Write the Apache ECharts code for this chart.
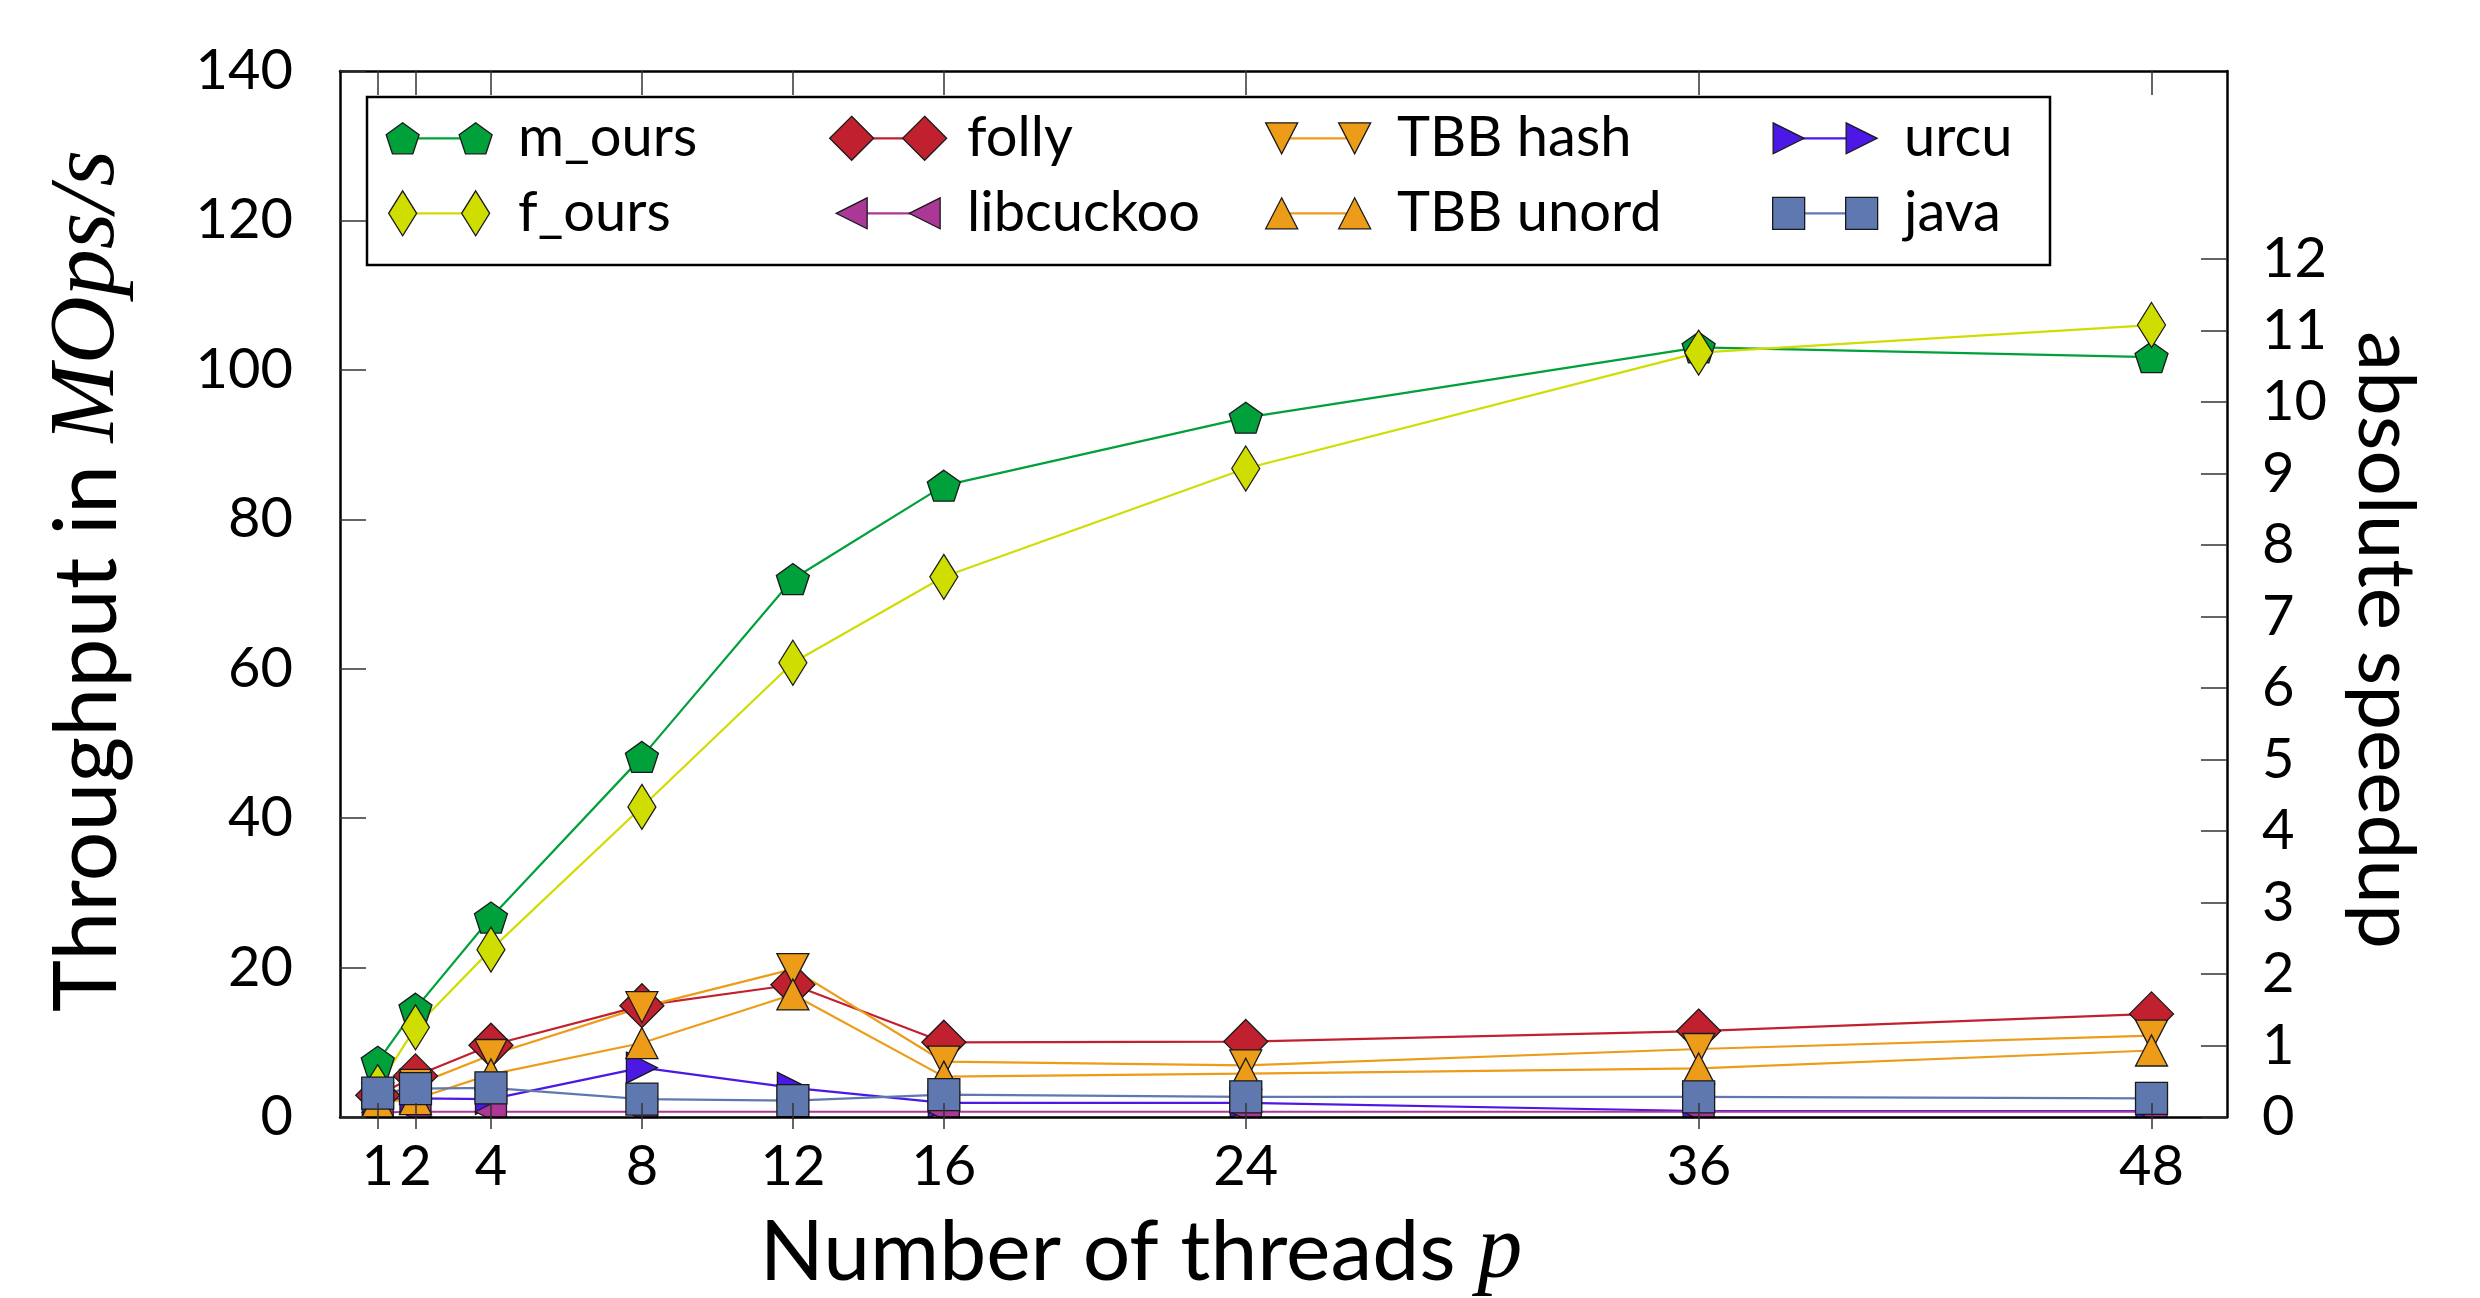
<!DOCTYPE html>
<html>
<head>
<meta charset="utf-8">
<script src="https://cdn.jsdelivr.net/npm/echarts@6/dist/echarts.min.js"></script>
<style>
html,body{margin:0;padding:0;background:#fff;}
#chart{width:2480px;height:1298px;}
</style>
</head>
<body>
<div id="chart"></div>
<script>
// ---------------- data ----------------
const threads = [1, 2, 4, 8, 12, 16, 24, 36, 48];
const mOurs     = [7.4, 14.5, 26.7, 48.2, 72.0, 84.5, 93.6, 103.0, 101.7];
const fOurs     = [4.0, 12.0, 22.4, 41.5, 60.8, 72.3, 86.8, 102.3, 106.0];
const folly     = [2.9, 5.5, 9.6, 14.9, 17.7, 10.0, 10.1, 11.5, 13.8];
const libcuckoo = [0.6, 0.7, 0.7, 0.7, 0.7, 0.7, 0.7, 0.7, 0.7];
const tbbHash   = [2.5, 4.3, 8.3, 14.7, 19.8, 7.4, 6.9, 9.1, 10.9];
const tbbUnord  = [2.0, 2.4, 5.7, 9.9, 16.4, 5.4, 5.8, 6.5, 8.9];
const urcu      = [2.3, 2.5, 2.4, 6.6, 3.9, 1.9, 1.9, 0.8, 0.8];
const java      = [3.2, 3.8, 3.9, 2.4, 2.2, 3.0, 2.7, 2.7, 2.5];
const xTickLabels = [1, 2, 4, 8, 12, 16, 24, 36, 48];
const speedupTicks = [0, 1, 2, 3, 4, 5, 6, 7, 8, 9, 10, 11, 12];
const seriesNames = ['m_ours', 'folly', 'TBB hash', 'urcu', 'f_ours', 'libcuckoo', 'TBB unord', 'java'];
const seriesValues = {
  'm_ours': mOurs, 'folly': folly, 'TBB hash': tbbHash, 'urcu': urcu,
  'f_ours': fOurs, 'libcuckoo': libcuckoo, 'TBB unord': tbbUnord, 'java': java
};

// ---------------- styles ----------------
const SHAPES = {
  pent:    [[0.5,0],[1,0.382],[0.809,1],[0.191,1],[0,0.382]],
  diamond: [[0.5,0],[1,0.5],[0.5,1],[0,0.5]],
  up:      [[0.5,0],[1,1],[0,1]],
  down:    [[0,0],[1,0],[0.5,1]],
  left:    [[0,0.5],[1,0],[1,1]],
  right:   [[0,0],[1,0.5],[0,1]],
  square:  [[0,0],[1,0],[1,1],[0,1]]
};
const STY = {
  'm_ours':    {color:'#00A03B', shape:'pent',    w:33, h:31},
  'f_ours':    {color:'#CFDD00', shape:'diamond', w:28, h:45},
  'folly':     {color:'#C1212F', shape:'diamond', w:44, h:44},
  'libcuckoo': {color:'#AB3796', shape:'left',    w:31, h:31},
  'TBB hash':  {color:'#EC9C18', shape:'down',    w:32, h:31},
  'TBB unord': {color:'#EC9C18', shape:'up',      w:32, h:31},
  'urcu':      {color:'#4B18E5', shape:'right',   w:31, h:31},
  'java':      {color:'#5F79B0', shape:'square',  w:32, h:32}
};
function poly(pts, x0, y0, w, h) {
  return pts.map((p, i) => (i ? 'L' : 'M') + (x0 + p[0]*w).toFixed(2) + ',' + (y0 + p[1]*h).toFixed(2)).join(' ') + ' Z';
}
function legendIcon(name) {
  const s = STY[name], sh = SHAPES[s.shape];
  return 'path://M0,0 M120,45 ' + poly(sh, 24 - s.w/2, 22.5 - s.h/2, s.w, s.h) + ' ' +
         poly(sh, 97 - s.w/2, 22.5 - s.h/2, s.w, s.h);
}

const FONT = 'Lato';
const GL = 340, GT = 71, GW = 1887, GH = 1046;

const series = seriesNames.map(name => {
  const s = STY[name];
  return {
    name: name,
    type: 'line',
    xAxisIndex: 0, yAxisIndex: 0,
    data: threads.map((x, i) => [x, seriesValues[name][i]]),
    symbol: 'path://' + poly(SHAPES[s.shape], 0, 0, 100, 100),
    symbolSize: [s.w, s.h],
    lineStyle: {color: s.color, width: 2.2},
    itemStyle: {color: s.color, borderColor: '#1a1a1a', borderWidth: 1.3},
    emphasis: {disabled: true},
    silent: true,
    z: 2
  };
});

const cols = [['m_ours','f_ours'],['folly','libcuckoo'],['TBB hash','TBB unord'],['urcu','java']];
const colCenters = [402, 851, 1281, 1788];
const legendTop = 110.3;
const legendGap = 19;
const legends = [];
cols.forEach((col, ci) => {
  // line part + text
  legends.push({
    data: col, orient: 'vertical', left: colCenters[ci], top: legendTop, padding: 0,
    itemWidth: 73, itemHeight: 2.2, icon: 'rect', itemGap: legendGap, selectedMode: false,
    itemStyle: {borderWidth: 0},
    textStyle: {fontFamily: FONT, fontSize: 56, lineHeight: 45, color: '#000', padding: [0,0,0,38]},
    z: 5
  });
  // two markers
  legends.push({
    data: col.map(n => ({name: n, icon: legendIcon(n)})),
    orient: 'vertical', left: colCenters[ci] - 24, top: legendTop, padding: 0,
    itemWidth: 120, itemHeight: 45, itemGap: legendGap, selectedMode: false,
    itemStyle: {borderColor: '#1a1a1a', borderWidth: 1.3},
    textStyle: {fontFamily: FONT, fontSize: 56, lineHeight: 45, color: 'rgba(0,0,0,0)', padding: [0,0,0,15]},
    z: 6
  });
});

const chart = echarts.init(document.getElementById('chart'), null, {renderer: 'canvas'});
chart.setOption({
  animation: false,
  backgroundColor: '#fff',
  grid: [
    {left: GL, top: GT, width: GW, height: GH, containLabel: false},
    {left: GL, top: GT, width: GW, height: GH, containLabel: false}
  ],
  xAxis: [
    {
      type: 'value', gridIndex: 0, position: 'bottom', min: 0, max: 50, z: 6,
      axisLine: {show: true, onZero: false, lineStyle: {color: '#000', width: 2.5}},
      axisTick: {show: true, inside: false, length: 12, customValues: xTickLabels, lineStyle: {color: '#333', width: 1.5}},
      axisLabel: {show: true, customValues: xTickLabels, fontFamily: FONT, fontSize: 56, color: '#000', margin: 22},
      splitLine: {show: false}
    },
    {
      type: 'value', gridIndex: 0, position: 'top', min: 0, max: 50, z: 6,
      axisLine: {show: true, onZero: false, lineStyle: {color: '#000', width: 2.5}},
      axisTick: {show: true, inside: true, length: 24, customValues: xTickLabels, lineStyle: {color: '#333', width: 1.5}},
      axisLabel: {show: false},
      splitLine: {show: false}
    },
    {
      type: 'value', gridIndex: 1, position: 'bottom', min: 0, max: 50, z: 10,
      axisLine: {show: false},
      axisTick: {show: true, inside: true, length: 14, customValues: xTickLabels, lineStyle: {color: '#333', width: 1.5}},
      axisLabel: {show: false},
      splitLine: {show: false}
    }
  ],
  yAxis: [
    {
      type: 'value', gridIndex: 0, position: 'left', min: 0, max: 140, interval: 20, z: 6,
      axisLine: {show: true, onZero: false, lineStyle: {color: '#000', width: 2.5}},
      axisTick: {show: true, inside: true, length: 26, lineStyle: {color: '#333', width: 1.5}},
      axisLabel: {fontFamily: FONT, fontSize: 56, color: '#000', margin: 47},
      splitLine: {show: false}
    },
    {
      type: 'value', gridIndex: 0, position: 'right', min: 0, max: 14.63, z: 6,
      axisLine: {show: true, onZero: false, lineStyle: {color: '#000', width: 2.5}},
      axisTick: {show: true, inside: true, length: 26, customValues: speedupTicks, lineStyle: {color: '#333', width: 1.5}},
      axisLabel: {customValues: speedupTicks, fontFamily: FONT, fontSize: 56, color: '#000', margin: 35},
      splitLine: {show: false}
    },
    {type: 'value', gridIndex: 1, min: 0, max: 1, show: false}
  ],
  legend: legends,
  series: series,
  graphic: [
    {type: 'rect', z: 3, silent: true, shape: {x: GL - 8, y: GT + GH + 1.3, width: GW + 16, height: 22},
     style: {fill: '#fff'}},
    {type: 'rect', z: 3, silent: true, shape: {x: 367, y: 97, width: 1683, height: 168},
     style: {fill: '#fff', stroke: '#000', lineWidth: 2.5}},
    {type: 'text', z: 10, silent: true, x: 88, y: 581, rotation: Math.PI / 2,
     style: {text: '{a|Throughput in }{m|MOps/s}', x: 0, y: 0, fill: '#000',
       align: 'center', verticalAlign: 'middle', textAlign: 'center', textVerticalAlign: 'middle',
       rich: {a: {fontFamily: FONT, fontSize: 88, fill: '#000'},
              m: {fontFamily: 'Liberation Serif', fontStyle: 'italic', fontSize: 94, fill: '#000'}}}},
    {type: 'text', z: 10, silent: true, x: 1141, y: 1253,
     style: {text: '{a|Number of threads }{m|p}', x: 0, y: 0, fill: '#000',
       align: 'center', verticalAlign: 'middle', textAlign: 'center', textVerticalAlign: 'middle',
       rich: {a: {fontFamily: FONT, fontSize: 84, fill: '#000'},
              m: {fontFamily: 'Liberation Serif', fontStyle: 'italic', fontSize: 90, fill: '#000'}}}},
    {type: 'text', z: 10, silent: true, x: 2385, y: 640, rotation: -Math.PI / 2,
     style: {text: 'absolute speedup', x: 0, y: 0, fill: '#000', fontFamily: FONT, fontSize: 80,
       font: '80px Lato',
       align: 'center', verticalAlign: 'middle', textAlign: 'center', textVerticalAlign: 'middle'}}
  ]
});
</script>
</body>
</html>
